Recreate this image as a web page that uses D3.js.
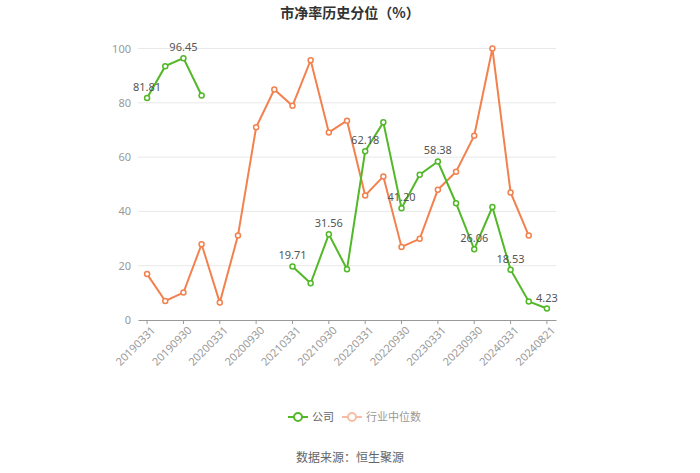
<!DOCTYPE html>
<html><head><meta charset="utf-8">
<script src="https://cdn.jsdelivr.net/npm/d3@7"></script>
<style>body{margin:0;background:#fff;font-family:"Noto Sans CJK SC","Noto Sans",sans-serif;}</style>
</head><body><svg id="c" width="700" height="473"></svg>
<script>
const categories = ["20190331","20190630","20190930","20191231","20200331","20200630","20200930","20201231","20210331","20210630","20210930","20211231","20220331","20220630","20220930","20221231","20230331","20230630","20230930","20231231","20240331","20240630","20240821"];
const companyValues = [81.81,93.5,96.45,82.7,null,null,null,null,19.71,13.5,31.56,18.7,62.18,72.8,41.20,53.5,58.38,43.0,26.06,41.6,18.53,6.8,4.23];
const industryValues = [16.9,7.0,10.1,27.9,6.4,31.1,71.0,84.9,78.9,95.7,69.1,73.4,45.9,52.9,26.9,29.9,48.0,54.6,67.9,100,47.0,31.1,null];
const labeledIdx = [0,2,8,10,12,14,16,18,20,22];
const yTicks = [0,20,40,60,80,100];
const seriesNames = ["公司","行业中位数"];

const svg = d3.select("#c");
const green = "#52b828", orange = "#f3814e";
const x = d3.scaleBand().domain(categories).range([138,556]);
const y = d3.scaleLinear().domain([0,100]).range([320,48.5]);
const cx = d => x(d) + x.bandwidth()/2;

// title
svg.append("text").attr("x",350).attr("y",18).attr("text-anchor","middle")
  .attr("font-size",14).attr("font-weight","bold").attr("fill","#333").text("市净率历史分位（%）");

// grid
svg.append("g").selectAll("line").data(yTicks.filter(t=>t>0)).join("line")
  .attr("x1",138).attr("x2",556).attr("y1",d=>y(d)).attr("y2",d=>y(d))
  .attr("stroke","#e8e8e8").attr("stroke-width",1);

// y axis labels
const ya = svg.append("g").attr("transform","translate(131,0)")
  .call(d3.axisLeft(y).tickValues(yTicks).tickSize(0).tickPadding(0));
ya.select(".domain").remove();
ya.selectAll("text").attr("fill","#999").attr("font-size",11).attr("font-family","'Noto Sans','Noto Sans CJK SC',sans-serif");

// x axis
const xa = svg.append("g").attr("transform","translate(0,320)")
  .call(d3.axisBottom(x).tickValues(categories.filter((d,i)=>i%2===0)).tickSize(4).tickSizeOuter(0));
xa.select(".domain").attr("stroke","#999");
xa.selectAll(".tick line").attr("stroke","#999");
xa.selectAll("text").attr("fill","#999").attr("font-size",11)
  .attr("font-family","'Noto Sans','Noto Sans CJK SC',sans-serif")
  .attr("text-anchor","end").attr("dy",0).attr("dx",0)
  .attr("transform","translate(4,6) rotate(-45)");

function drawSeries(vals,color){
  const line = d3.line().defined(d=>d.v!==null).x(d=>cx(d.c)).y(d=>y(d.v));
  const data = categories.map((c,i)=>({c,v:vals[i]}));
  svg.append("path").datum(data).attr("d",line).attr("fill","none").attr("stroke",color).attr("stroke-width",2);
  svg.append("g").selectAll("circle").data(data.filter(d=>d.v!==null)).join("circle")
    .attr("cx",d=>cx(d.c)).attr("cy",d=>y(d.v)).attr("r",2.5)
    .attr("fill","#fff").attr("stroke",color).attr("stroke-width",1.5);
}
drawSeries(industryValues,orange);
drawSeries(companyValues,green);

// labels
svg.append("g").selectAll("text").data(labeledIdx).join("text")
  .attr("x",i=>cx(categories[i])).attr("y",i=>y(companyValues[i])-7)
  .attr("text-anchor","middle").attr("font-size",11).attr("fill","#555")
  .attr("font-family","'Noto Sans','Noto Sans CJK SC',sans-serif")
  .text(i=>companyValues[i].toFixed(2));

// legend
const lg = svg.append("g");
const items = [{n:seriesNames[0],c:green,t:"#666",x:288},{n:seriesNames[1],c:"#f7bda3",t:"#999",x:342}];
items.forEach(it=>{
  lg.append("line").attr("x1",it.x).attr("x2",it.x+20).attr("y1",417).attr("y2",417).attr("stroke",it.c).attr("stroke-width",2);
  lg.append("circle").attr("cx",it.x+10).attr("cy",417).attr("r",4).attr("fill","#fff").attr("stroke",it.c).attr("stroke-width",2);
  lg.append("text").attr("x",it.x+24).attr("y",421).attr("font-size",11).attr("fill",it.t).text(it.n);
});

// source
svg.append("text").attr("x",350).attr("y",462).attr("text-anchor","middle").attr("font-size",12).attr("fill","#666").text("数据来源：恒生聚源");
</script></body></html>
